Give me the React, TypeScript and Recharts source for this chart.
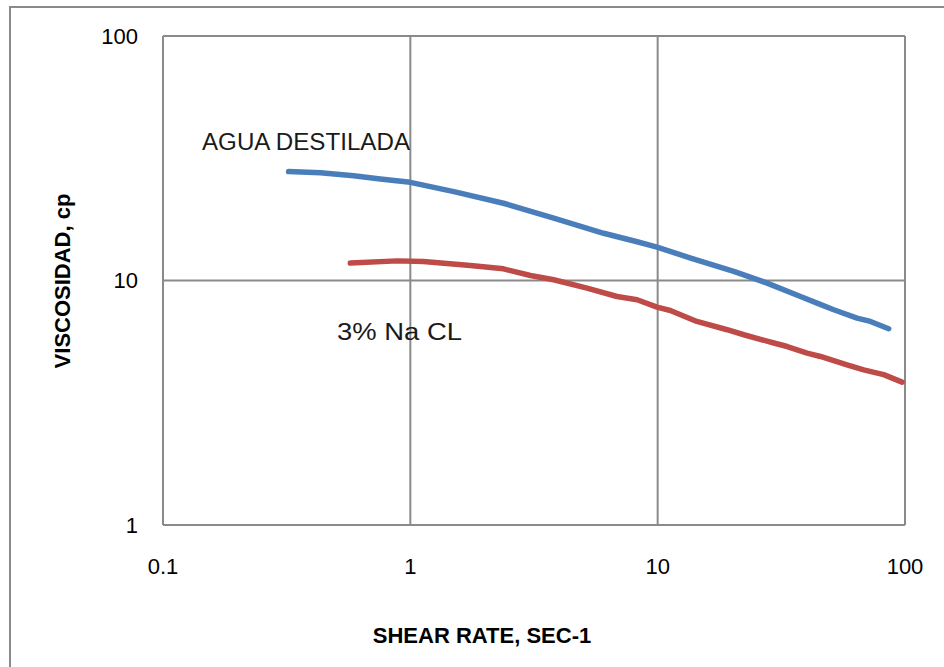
import { CartesianGrid, Line, LineChart, XAxis, YAxis } from 'recharts';

// agua destilada
const aguaRate = [0.322, 0.433, 0.59, 0.756, 1.0, 1.5, 2.38, 3.8, 6.05, 8.26, 9.94, 13.6, 20.3, 22.3, 27.7, 37.8, 44.1, 51.5, 64.0, 72.5, 85.9];
const aguaVisc = [27.9, 27.6, 26.8, 26.0, 25.2, 23.1, 20.7, 18.0, 15.6, 14.4, 13.7, 12.35, 10.9, 10.55, 9.76, 8.6, 8.08, 7.59, 7.02, 6.8, 6.35];

// 3% NaCl
const naclRate = [0.572, 0.884, 1.13, 1.75, 2.38, 3.06, 3.8, 5.18, 6.85, 8.26, 9.94, 11.25, 14.4, 19.1, 22.3, 29.5, 33.4, 40.2, 45.5, 58.3, 68.1, 82.0, 97.3];
const naclVisc = [11.78, 12.03, 11.96, 11.52, 11.16, 10.48, 10.07, 9.31, 8.6, 8.34, 7.78, 7.54, 6.8, 6.29, 6.0, 5.55, 5.37, 5.05, 4.89, 4.52, 4.31, 4.12, 3.84];

const xTicks = [0.1, 1, 10, 100];
const yTicks = [1, 10, 100];

const aguaData = aguaRate.map((x, i) => ({ x, y: aguaVisc[i] }));
const naclData = naclRate.map((x, i) => ({ x, y: naclVisc[i] }));

const font = '"Liberation Sans", Arial, sans-serif';
const gridColor = '#8a8a8a';

export default function App() {
  return (
    <div style={{ position: 'absolute', left: 0, top: 0, width: 944, height: 667, overflow: 'hidden', background: '#fff' }}>
      <div
        style={{
          position: 'absolute',
          left: 9,
          top: 6,
          width: 1000,
          height: 700,
          borderLeft: `2px solid ${gridColor}`,
          borderTop: `2px solid ${gridColor}`,
        }}
      />
      <LineChart
        width={944}
        height={667}
        margin={{ top: 36, right: 39, left: 103, bottom: 82 }}
        style={{ position: 'absolute', left: 0, top: 0, fontFamily: font }}
      >
        <CartesianGrid stroke={gridColor} strokeWidth={2} />
        <XAxis
          dataKey="x"
          type="number"
          scale="log"
          domain={[0.1, 100]}
          ticks={xTicks}
          allowDataOverflow
          axisLine={false}
          tickLine={false}
          tickSize={0}
          tickMargin={33}
          height={60}
          tick={{ fill: '#000', fontSize: 22 }}
        />
        <YAxis
          dataKey="y"
          type="number"
          scale="log"
          domain={[1, 100]}
          ticks={yTicks}
          allowDataOverflow
          axisLine={false}
          tickLine={false}
          tickSize={0}
          tickMargin={25}
          width={60}
          tick={{ fill: '#000', fontSize: 22 }}
        />
        <Line
          data={aguaData}
          dataKey="y"
          type="linear"
          stroke="#4a7ebb"
          strokeWidth={5.5}
          strokeLinecap="round"
          strokeLinejoin="round"
          dot={false}
          activeDot={false}
          isAnimationActive={false}
        />
        <Line
          data={naclData}
          dataKey="y"
          type="linear"
          stroke="#be4b48"
          strokeWidth={5.5}
          strokeLinecap="round"
          strokeLinejoin="round"
          dot={false}
          activeDot={false}
          isAnimationActive={false}
        />
      </LineChart>
      <svg
        width={944}
        height={667}
        style={{ position: 'absolute', left: 0, top: 0, pointerEvents: 'none', fontFamily: font }}
      >
        <text x={202} y={150} fontSize={23.5} fill="#1a1a1a" textLength={208} lengthAdjust="spacingAndGlyphs">
          AGUA DESTILADA
        </text>
        <text x={337} y={340} fontSize={23.5} fill="#1a1a1a" textLength={125} lengthAdjust="spacingAndGlyphs">
          3% Na CL
        </text>
        <text x={482} y={643} fontSize={22} fontWeight="bold" textAnchor="middle" fill="#000">
          SHEAR RATE, SEC-1
        </text>
        <text
          x={70}
          y={281}
          fontSize={22}
          fontWeight="bold"
          textAnchor="middle"
          fill="#000"
          transform="rotate(-90, 70, 281)"
        >
          VISCOSIDAD, cp
        </text>
      </svg>
    </div>
  );
}
